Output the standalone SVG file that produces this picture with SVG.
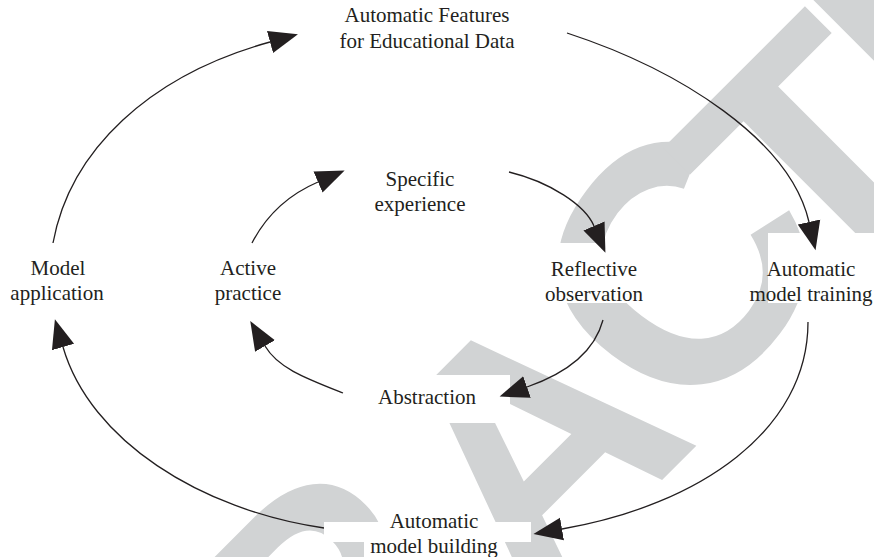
<svg xmlns="http://www.w3.org/2000/svg" width="874" height="557" viewBox="0 0 874 557">
  <style>
    .lbl { font-family: "Liberation Serif", "Times New Roman", serif; font-size: 21px; fill: #231f20; text-anchor: middle; }
    .arc { fill: none; stroke: #231f20; stroke-width: 1.3; }
    .box { fill: #ffffff; }
    .wm { font-family: "Liberation Sans", Arial, sans-serif; font-weight: bold; font-size: 340px; fill: #d1d3d4; }
  </style>
  <defs>
    <marker id="ah" markerUnits="userSpaceOnUse" markerWidth="32" markerHeight="26" viewBox="0 -13 32 26" refX="0" refY="0" orient="auto">
      <path d="M0,-11.5 L29,0 L0,11.5 z" fill="#231f20"/>
    </marker>
  </defs>
  <rect width="874" height="557" fill="#ffffff"/>

  <g id="watermark" class="wm" transform="translate(-125,1267) rotate(-45)">
    <text x="-21" y="-28">RETR</text>
    <text x="925" y="0">A</text>
    <text x="1150" y="-21" transform="rotate(-8 1274 -145)">C</text>
    <text x="1345" y="0">T<tspan dx="-16">ED</tspan></text>
  </g>

  <g id="boxes">
    <rect class="box" x="350" y="375" width="160" height="48"/>
    <rect class="box" x="324" y="522" width="207" height="20"/>
    <rect class="box" x="364" y="541" width="136" height="16"/>
    <rect class="box" x="768" y="233" width="106" height="70"/>
    <rect class="box" x="540" y="243" width="108" height="60"/>
  </g>

  <g id="connectors">
    <path class="arc" d="M53,243 C70,150 150,75 270,42" marker-end="url(#ah)"/>
    <path class="arc" d="M567,33 C680,70 790,140 809,222" marker-end="url(#ah)"/>
    <path class="arc" d="M808,322 C808,430 700,505 562,529" marker-end="url(#ah)"/>
    <path class="arc" d="M324,528 C200,510 90,440 63,347" marker-end="url(#ah)"/>
    <path class="arc" d="M252,243 C268,212 290,194 318,182" marker-end="url(#ah)"/>
    <path class="arc" d="M509,172 C550,182 585,205 594,226" marker-end="url(#ah)"/>
    <path class="arc" d="M603,320 C595,350 570,372 527,387" marker-end="url(#ah)"/>
    <path class="arc" d="M343,393 C305,378 278,368 265,346" marker-end="url(#ah)"/>
  </g>

  <g id="node-features">
    <text class="lbl" x="427" y="22">Automatic Features</text>
    <text class="lbl" x="427" y="48">for Educational Data</text>
  </g>
  <g id="node-specific">
    <text class="lbl" x="420" y="186">Specific</text>
    <text class="lbl" x="420" y="211">experience</text>
  </g>
  <g id="node-model-application">
    <text class="lbl" x="58" y="275">Model</text>
    <text class="lbl" x="57" y="300">application</text>
  </g>
  <g id="node-active">
    <text class="lbl" x="248" y="275">Active</text>
    <text class="lbl" x="248" y="300">practice</text>
  </g>
  <g id="node-reflective">
    <text class="lbl" x="594" y="276">Reflective</text>
    <text class="lbl" x="594" y="301">observation</text>
  </g>
  <g id="node-training">
    <text class="lbl" x="811" y="276">Automatic</text>
    <text class="lbl" x="811" y="301">model training</text>
  </g>
  <g id="node-abstraction">
    <text class="lbl" x="427" y="404">Abstraction</text>
  </g>
  <g id="node-building">
    <text class="lbl" x="434" y="528">Automatic</text>
    <text class="lbl" x="434" y="553">model building</text>
  </g>
</svg>
